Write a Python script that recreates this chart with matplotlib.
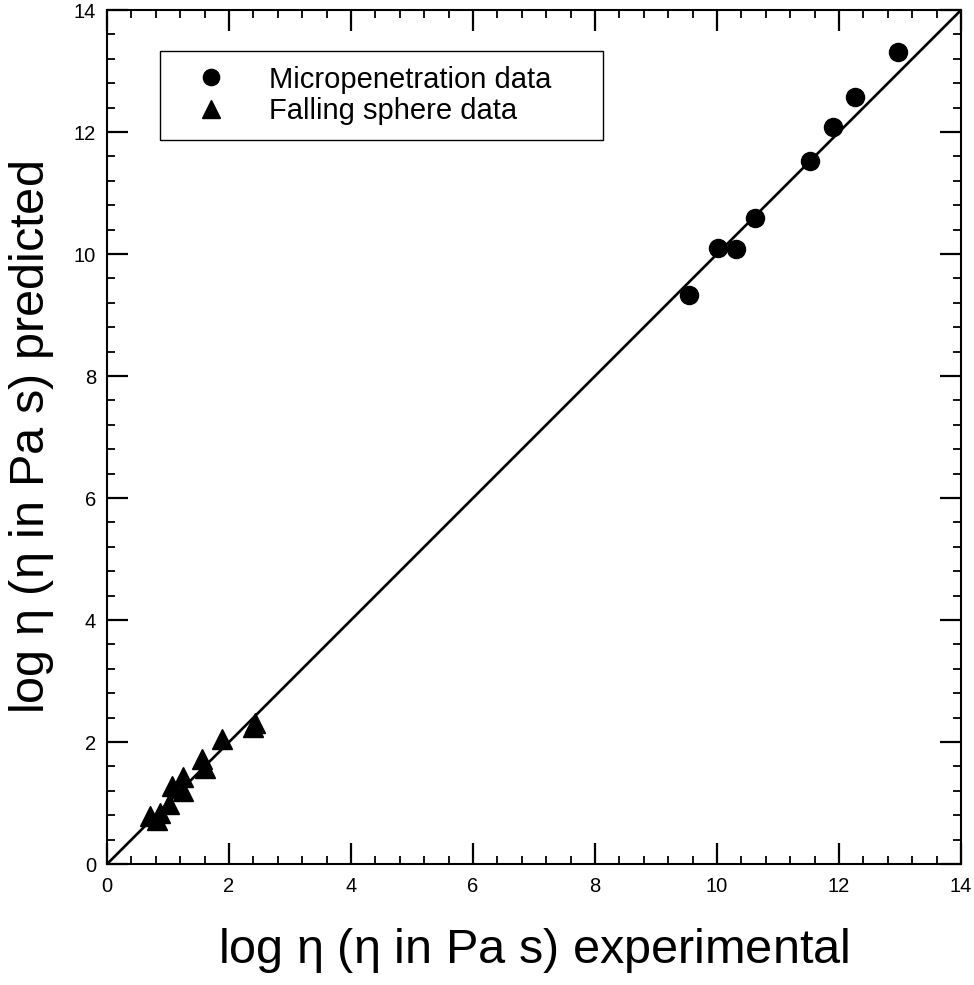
import matplotlib
matplotlib.use('Agg')
import matplotlib.pyplot as plt
import numpy as np
from matplotlib.ticker import MultipleLocator

plt.rcParams['font.family'] = ['Liberation Sans', 'DejaVu Sans']

# micropenetration data (circles)
micro_exp = [9.54, 10.01, 10.31, 10.62, 11.52, 11.90, 12.26, 12.96]
micro_pred = [9.33, 10.10, 10.08, 10.59, 11.52, 12.08, 12.57, 13.31]

# falling sphere data (triangles)
fall_exp = [0.71, 0.82, 0.87, 1.01, 1.06, 1.25, 1.25, 1.55, 1.61, 1.88, 2.40, 2.43]
fall_pred = [0.79, 0.73, 0.84, 0.98, 1.28, 1.42, 1.20, 1.72, 1.58, 2.05, 2.24, 2.32]

line_x = [0, 14]

f = plt.figure(figsize=(9.74, 9.85), dpi=100)
ax = f.add_axes([0.1099, 0.1228, 0.8768, 0.8670])

ax.plot(line_x, line_x, color='black', lw=1.9, zorder=2)
ax.plot(micro_exp, micro_pred, 'o', color='black', ms=13, ls='none',
        label='Micropenetration data', zorder=3)
ax.plot(fall_exp, fall_pred, '^', color='black', ms=14, ls='none',
        label='Falling sphere data', zorder=3)

ax.set_xlim(0, 14)
ax.set_ylim(0, 14)
for axis in (ax.xaxis, ax.yaxis):
    axis.set_major_locator(MultipleLocator(2))
    axis.set_minor_locator(MultipleLocator(0.4))
ax.tick_params(which='both', direction='in', top=True, right=True, labelsize=14.5)
ax.tick_params(axis='x', which='both', pad=9)
ax.tick_params(axis='y', which='both', pad=8)
ax.tick_params(which='major', length=15, width=1.6)
ax.tick_params(which='minor', length=6, width=1.3)
for s in ax.spines.values():
    s.set_linewidth(1.5)

ax.set_xlabel(r'log $\mathregular{\eta}$ ($\mathregular{\eta}$ in Pa s) experimental', fontsize=35, labelpad=22)
ax.set_ylabel(r'log $\mathregular{\eta}$ ($\mathregular{\eta}$ in Pa s) predicted', fontsize=35, labelpad=13)

leg = ax.legend(loc='upper left', bbox_to_anchor=(0.0621, 0.0, 0.5187, 0.952), mode='expand',
                borderaxespad=0, fontsize=21, markerscale=0.9, handlelength=2.5,
                handletextpad=0.75, borderpad=0.5, labelspacing=0.12,
                fancybox=False, framealpha=1)
leg.get_frame().set_edgecolor('black')
leg.get_frame().set_linewidth(1.0)

f.savefig('out.png', dpi=100)
